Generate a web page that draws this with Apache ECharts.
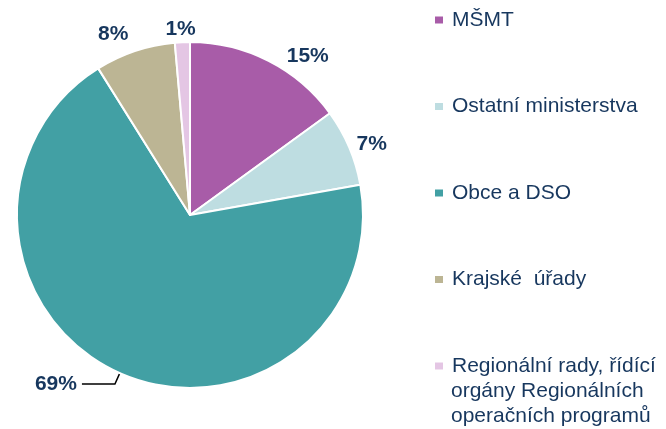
<!DOCTYPE html>
<html>
<head>
<meta charset="utf-8">
<script src="https://cdn.jsdelivr.net/npm/echarts@6/dist/echarts.min.js"></script>
<style>
  html, body { margin: 0; padding: 0; background: #fff; }
  #pie-1 { width: 666px; height: 429px; }
</style>
</head>
<body>
<div id="pie-1"></div>
<script>
// podíly (%)
let categories = ['MŠMT', 'Ostatní ministerstva', 'Obce a DSO', 'Krajské  úřady', 'Regionální rady, řídící\norgány Regionálních\noperačních programů'];
let shares = [15, 7.2, 68.9, 7.5, 1.4];
let colors = ['#a85ca8', '#bedde1', '#42a0a4', '#bcb594', '#e4c6e4'];

let navy = '#17375e';
let fontName = 'Liberation Sans, Arial, sans-serif';

function Series_data(names, vals){
    var out = [];
    for(var i=0;i<names.length;i++){
        var item = {
            name: names[i],
            value: vals[i],
            itemStyle: {color: colors[i]}
        };
        if(i == 2){
            item.labelLine = {show: true, length: 12, length2: 33};
        }
        out.push(item);
    }
    return out;
}

// legenda umí jen první řádek vedle ikony, zbytek dlouhého názvu jako text
function Rest_lines(names){
    var last = names[names.length-1].split('\n');
    return last.slice(1).join('\n');
}

// drobné posuny popisků, aby seděly jako v originále
let labelNudge = {0: [26, 11], 1: [1, 4], 3: [-11, 0], 4: [4, 5]};

MapContainer = document.getElementById('pie-1');
myChart = echarts.init(MapContainer);

option = {
    animation: false,
    legend: {
        orient: 'vertical',
        left: 433,
        top: 8,
        padding: 0,
        itemWidth: 10,
        itemHeight: 9,
        itemGap: 62.5,
        icon: 'rect',
        data: categories,
        formatter: function(name){ return name.split('\n')[0]; },
        textStyle: {
            color: navy,
            fontFamily: fontName,
            fontSize: 21,
            lineHeight: 24,
            padding: [0, 0, 0, 3]
        }
    },
    graphic: [
        {
            type: 'text',
            left: 451,
            top: 379,
            silent: true,
            style: {
                text: Rest_lines(categories),
                fill: navy,
                font: '21px ' + fontName,
                lineHeight: 24.5
            }
        }
    ],
    series : [
        {
            name: 'Podíl',
            type: 'pie',
            radius : 173,
            center: [190, 215],
            startAngle: 90,
            clockwise: true,
            avoidLabelOverlap: false,
            data: Series_data(categories, shares),
            itemStyle: {
                borderColor: '#fff',
                borderWidth: 2
            },
            label: {
                show: true,
                position: 'outside',
                color: navy,
                fontFamily: fontName,
                fontSize: 21,
                fontWeight: 'bold',
                formatter: function(p){ return Math.round(p.value) + '%'; }
            },
            labelLine: {
                show: false,
                length: 18,
                length2: 0,
                lineStyle: {color: '#000', width: 1.5}
            },
            labelLayout: function(params){
                if(params.dataIndex == 2) return {};
                var n = labelNudge[params.dataIndex] || [0, 0];
                return {align: 'center', verticalAlign: 'middle', dx: n[0], dy: n[1]};
            }
        }
    ]
};

myChart.setOption(option);
</script>
</body>
</html>
